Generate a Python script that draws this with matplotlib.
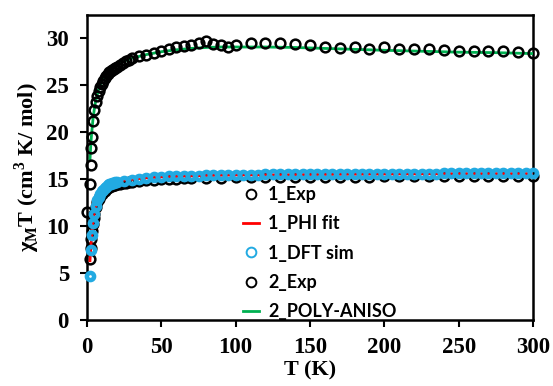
import matplotlib
matplotlib.use("Agg")
import matplotlib.pyplot as plt

# ---- data ----
T2_exp = [0.3, 2, 2.5, 3, 3.5, 4, 5, 6, 7, 8, 9, 10, 11, 12, 13, 14, 15, 16, 17, 18, 19, 20,
          22, 24, 26, 28, 30, 35, 40, 45, 50, 55, 60, 65, 70, 75, 80, 85, 90, 95, 100,
          110, 120, 130, 140, 150, 160, 170, 180, 190, 200, 210, 220, 230, 240, 250,
          260, 270, 280, 290, 300]
chi2_exp = [11.5, 14.4, 16.5, 18.3, 19.4, 21.1, 22.3, 23.2, 23.8, 24.3, 24.7, 25.1, 25.4, 25.7,
            25.9, 26.1, 26.3, 26.4, 26.6, 26.7, 26.8, 26.9, 27.1, 27.3, 27.5, 27.65, 27.8,
            28.0, 28.2, 28.4, 28.6, 28.8, 29.0, 29.1, 29.25, 29.4, 29.6, 29.35, 29.25, 29.0,
            29.25, 29.4, 29.4, 29.4, 29.3, 29.2, 28.95, 28.9, 29.0, 28.8, 29.0, 28.8, 28.8,
            28.8, 28.7, 28.6, 28.6, 28.6, 28.6, 28.5, 28.4]

T2_poly = [2, 2.5, 3, 4, 5, 6, 8, 10, 12, 15, 20, 25, 30, 40, 50, 60, 70, 80, 90, 100,
           120, 140, 160, 180, 200, 225, 250, 275, 300]
chi2_poly = [17.0, 18.5, 19.6, 21.3, 22.5, 23.4, 24.6, 25.4, 25.9, 26.5, 27.1, 27.5, 27.8,
             28.2, 28.5, 28.7, 28.85, 28.95, 29.0, 29.0, 29.0, 28.95, 28.85, 28.75, 28.65,
             28.55, 28.45, 28.4, 28.3]

T1_exp = [2, 2.5, 3, 3.5, 4, 4.5, 5, 6, 7, 8, 9, 10, 11, 12, 13, 14, 15, 16, 17, 18, 19, 20,
          22, 24, 26, 28, 30, 35, 40, 45, 50, 55, 60, 65, 70, 80, 90, 100, 110, 120, 130,
          140, 150, 160, 170, 180, 190, 200, 210, 220, 230, 240, 250, 260, 270, 280, 290, 300]
chi1_exp = [6.5, 7.6, 8.6, 9.5, 10.2, 10.8, 11.3, 12.0, 12.5, 12.9, 13.2, 13.4, 13.6, 13.75,
            13.9, 14.0, 14.1, 14.2, 14.25, 14.3, 14.35, 14.4, 14.5, 14.55, 14.6, 14.65, 14.7,
            14.8, 14.85, 14.9, 14.95, 15.0, 15.0, 15.05, 15.05, 15.1, 15.1, 15.15, 15.15, 15.2,
            15.2, 15.2, 15.2, 15.2, 15.2, 15.2, 15.2, 15.25, 15.25, 15.25, 15.25, 15.25, 15.25,
            15.25, 15.25, 15.25, 15.25, 15.25]

T1_phi = [2, 2.5, 3, 3.5, 4, 5, 6, 7, 8, 10, 12, 15, 20, 25, 30, 40, 50, 60, 80, 100, 150,
          200, 250, 300]
chi1_phi = [6.3, 7.6, 8.7, 9.6, 10.3, 11.4, 12.2, 12.8, 13.2, 13.8, 14.1, 14.4, 14.7, 14.85,
            14.95, 15.1, 15.2, 15.25, 15.35, 15.4, 15.45, 15.5, 15.55, 15.55]

T1_dft = [2, 2.7, 3.3, 4, 5, 6, 7, 8, 9, 10, 11, 12, 13, 14, 15, 16, 17, 18, 19, 20,
          25, 30, 35, 40, 45, 50, 55, 60, 65, 70, 75, 80, 85, 90, 95, 100, 105, 110, 115,
          120, 125, 130, 135, 140, 145, 150, 155, 160, 165, 170, 175, 180, 185, 190, 195,
          200, 205, 210, 215, 220, 225, 230, 235, 240, 245, 250, 255, 260, 265, 270, 275,
          280, 285, 290, 295, 300]
chi1_dft = [4.7, 7.4, 9.0, 10.3, 11.3, 12.1, 12.7, 13.1, 13.4, 13.7, 13.85, 14.0, 14.15, 14.3,
            14.4, 14.5, 14.55, 14.6, 14.65, 14.7, 14.8, 14.9, 15.0, 15.1, 15.15, 15.2, 15.25,
            15.3, 15.3, 15.35, 15.35, 15.4, 15.4, 15.4, 15.45, 15.45, 15.45, 15.45, 15.45,
            15.5, 15.5, 15.5, 15.5, 15.5, 15.5, 15.5, 15.5, 15.5, 15.5, 15.5, 15.5, 15.55,
            15.55, 15.55, 15.55, 15.55, 15.55, 15.55, 15.55, 15.55, 15.55, 15.55, 15.55,
            15.6, 15.6, 15.6, 15.6, 15.6, 15.6, 15.6, 15.6, 15.6, 15.6, 15.6, 15.6, 15.6]

x_ticks = [0, 50, 100, 150, 200, 250, 300]
y_ticks = [0, 5, 10, 15, 20, 25, 30]

# ---- plot ----
fig = plt.figure(figsize=(5.53, 3.86), dpi=100)
ax = fig.add_axes([87/553, 1-320/386, (533-87)/553, (320-15)/386])

serif = 'Liberation Serif'
cyan = '#22aae2'
ax.plot(T1_exp, chi1_exp, 'o', mfc='none', mec='black', mew=1.8, ms=7.0, label='1_Exp',
        zorder=3, clip_on=False)
ax.plot(T1_phi, chi1_phi, '-', color='#ff0000', lw=2.0, label='1_PHI fit', zorder=4)
ax.plot(T1_dft, chi1_dft, 'o', mfc='none', mec=cyan, mew=3.2, ms=5.2, label='1_DFT sim',
        zorder=5, clip_on=False)
ax.plot(T2_exp, chi2_exp, 'o', mfc='none', mec='black', mew=1.8, ms=7.0, label='2_Exp',
        zorder=4, clip_on=False)
ax.plot(T2_poly, chi2_poly, '-', color='#00b050', lw=2.0, label='2_POLY-ANISO', zorder=3)

ax.set_xlim(0, 300)
ax.set_ylim(0, 32.4)
ax.set_xticks(x_ticks)
ax.set_yticks(y_ticks)
for s in ax.spines.values():
    s.set_linewidth(1.8)
ax.tick_params(direction='out', length=5, width=1.5)
ax.tick_params(axis='x', pad=7)
ax.tick_params(axis='y', pad=8)
for lab in ax.get_xticklabels() + ax.get_yticklabels():
    lab.set_fontfamily(serif)
    lab.set_fontweight('bold')
    lab.set_fontsize(16.5)

ax.set_xlabel('T (K)', fontfamily=serif, fontweight='bold', fontsize=16, labelpad=2)
ax.set_ylabel('χ$_\\mathregular{M}$T (cm$^\\mathregular{3}$ K/ mol)', fontfamily=serif,
              fontweight='bold', fontsize=16, labelpad=3)

leg = ax.legend(loc='upper left', bbox_to_anchor=(243/553, 1-186/386),
                bbox_transform=fig.transFigure, frameon=False,
                prop={'family': 'Lato', 'weight': 'bold', 'size': 13},
                handlelength=0.9, handletextpad=0.5, labelspacing=0.68, borderpad=0,
                borderaxespad=0)
for h in leg.legend_handles:
    try:
        h.set_markeredgewidth(1.4)
        h.set_markersize(7.0)
    except Exception:
        pass

fig.savefig('out.png', dpi=100)
